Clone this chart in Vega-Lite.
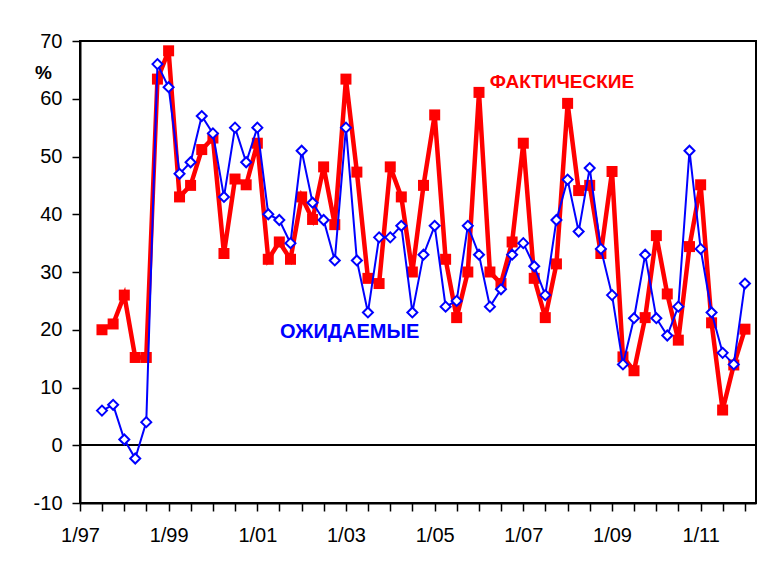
{
  "$schema": "https://vega.github.io/schema/vega-lite/v6.json",
  "width": 676,
  "height": 462,
  "autosize": {"type": "none"},
  "padding": {"left": 80, "top": 41, "right": 25, "bottom": 64},
  "background": "white",
  "config": {
    "font": "Liberation Sans",
    "view": {"stroke": "black", "strokeWidth": 2},
    "axis": {
      "domainColor": "black", "domainWidth": 2, "tickColor": "black", "tickWidth": 1.5,
      "labelColor": "black", "labelFont": "Liberation Sans", "labelFontSize": 20, "grid": false
    },
    "axisY": {
      "tickSize": 8, "labelPadding": 10, "titleAngle": 0, "titleX": -37, "titleY": 37,
      "titleAlign": "center", "titleBaseline": "alphabetic", "titleFontSize": 19,
      "titleFontWeight": "bold", "titleColor": "black", "titleFont": "Liberation Sans"
    },
    "axisX": {"tickSize": 8, "labelPadding": 14, "labelBaseline": "top"}
  },
  "data": {
    "values": [
      {"d": "1997-07-01", "f": 20.0, "e": 6},
      {"d": "1997-10-01", "f": 21.0, "e": 7},
      {"d": "1998-01-01", "f": 26.0, "e": 1},
      {"d": "1998-04-01", "f": 15.2, "e": -2.3},
      {"d": "1998-07-01", "f": 15.2, "e": 4},
      {"d": "1998-10-01", "f": 63.4, "e": 66},
      {"d": "1999-01-01", "f": 68.3, "e": 62},
      {"d": "1999-04-01", "f": 43.0, "e": 47},
      {"d": "1999-07-01", "f": 45.0, "e": 49},
      {"d": "1999-10-01", "f": 51.2, "e": 57},
      {"d": "2000-01-01", "f": 53.2, "e": 54},
      {"d": "2000-04-01", "f": 33.2, "e": 43},
      {"d": "2000-07-01", "f": 46.1, "e": 55},
      {"d": "2000-10-01", "f": 45.1, "e": 49},
      {"d": "2001-01-01", "f": 52.3, "e": 55},
      {"d": "2001-04-01", "f": 32.2, "e": 40},
      {"d": "2001-07-01", "f": 35.2, "e": 39},
      {"d": "2001-10-01", "f": 32.2, "e": 35},
      {"d": "2002-01-01", "f": 43.0, "e": 51},
      {"d": "2002-04-01", "f": 39.1, "e": 42},
      {"d": "2002-07-01", "f": 48.2, "e": 39},
      {"d": "2002-10-01", "f": 38.2, "e": 32},
      {"d": "2003-01-01", "f": 63.4, "e": 55},
      {"d": "2003-04-01", "f": 47.3, "e": 32},
      {"d": "2003-07-01", "f": 28.9, "e": 23},
      {"d": "2003-10-01", "f": 28.0, "e": 36},
      {"d": "2004-01-01", "f": 48.2, "e": 36},
      {"d": "2004-04-01", "f": 43.0, "e": 38},
      {"d": "2004-07-01", "f": 30.0, "e": 23},
      {"d": "2004-10-01", "f": 45.0, "e": 33},
      {"d": "2005-01-01", "f": 57.2, "e": 38},
      {"d": "2005-04-01", "f": 32.2, "e": 24},
      {"d": "2005-07-01", "f": 22.1, "e": 25},
      {"d": "2005-10-01", "f": 30.0, "e": 38},
      {"d": "2006-01-01", "f": 61.1, "e": 33},
      {"d": "2006-04-01", "f": 30.0, "e": 24},
      {"d": "2006-07-01", "f": 28.0, "e": 27},
      {"d": "2006-10-01", "f": 35.2, "e": 33},
      {"d": "2007-01-01", "f": 52.3, "e": 35},
      {"d": "2007-04-01", "f": 28.9, "e": 31},
      {"d": "2007-07-01", "f": 22.1, "e": 26},
      {"d": "2007-10-01", "f": 31.4, "e": 39},
      {"d": "2008-01-01", "f": 59.2, "e": 46},
      {"d": "2008-04-01", "f": 44.1, "e": 37},
      {"d": "2008-07-01", "f": 45.0, "e": 48},
      {"d": "2008-10-01", "f": 33.2, "e": 34},
      {"d": "2009-01-01", "f": 47.4, "e": 26},
      {"d": "2009-04-01", "f": 15.3, "e": 14},
      {"d": "2009-07-01", "f": 12.9, "e": 22},
      {"d": "2009-10-01", "f": 22.1, "e": 33},
      {"d": "2010-01-01", "f": 36.3, "e": 22},
      {"d": "2010-04-01", "f": 26.2, "e": 19},
      {"d": "2010-07-01", "f": 18.2, "e": 24},
      {"d": "2010-10-01", "f": 34.4, "e": 51},
      {"d": "2011-01-01", "f": 45.1, "e": 34},
      {"d": "2011-04-01", "f": 21.2, "e": 23},
      {"d": "2011-07-01", "f": 6.1, "e": 16},
      {"d": "2011-10-01", "f": 13.9, "e": 14},
      {"d": "2012-01-01", "f": 20.1, "e": 28}
    ]
  },
  "encoding": {
    "x": {
      "field": "d", "type": "temporal", "title": null,
      "scale": {"domain": [{"year": 1997, "month": 1, "date": 1}, {"year": 2012, "month": 4, "date": 1}]},
      "axis": {
        "tickCount": {"interval": "month", "step": 6},
        "labelExpr": "month(datum.value) == 0 && year(datum.value) % 2 == 1 ? '1/' + timeFormat(datum.value, '%y') : ''",
        "labelOverlap": false, "labelFlush": false
      }
    }
  },
  "layer": [
    {
      "mark": {"type": "rule", "color": "black", "strokeWidth": 1.5},
      "encoding": {"y": {"datum": 0, "type": "quantitative", "scale": {"domain": [-10, 70]}, "title": "%"}, "x": null}
    },
    {
      "mark": {"type": "line", "color": "#FF0000", "strokeWidth": 4.5},
      "encoding": {"y": {"field": "f", "type": "quantitative", "scale": {"domain": [-10, 70]}, "title": "%", "axis": {"values": [-10, 0, 10, 20, 30, 40, 50, 60, 70], "labelExpr": "'' + datum.value"}}}
    },
    {
      "mark": {"type": "point", "shape": "square", "filled": true, "size": 121, "color": "#FF0000", "opacity": 1},
      "encoding": {"y": {"field": "f", "type": "quantitative", "title": "%"}}
    },
    {
      "mark": {"type": "line", "color": "#0000FF", "strokeWidth": 2},
      "encoding": {"y": {"field": "e", "type": "quantitative", "title": "%"}}
    },
    {
      "mark": {"type": "point", "shape": "diamond", "filled": false, "fill": "white", "fillOpacity": 1, "stroke": "#0000FF", "strokeWidth": 2, "size": 100, "opacity": 1},
      "encoding": {"y": {"field": "e", "type": "quantitative", "title": "%"}}
    },
    {
      "data": {"values": [{"d": "2007-11-15", "v": 62.9, "t": "ФАКТИЧЕСКИЕ"}]},
      "mark": {"type": "text", "color": "#FF0000", "fontWeight": "bold", "fontSize": 19, "font": "Liberation Sans", "align": "center", "baseline": "middle"},
      "encoding": {"y": {"field": "v", "type": "quantitative", "title": "%"}, "text": {"field": "t"}}
    },
    {
      "data": {"values": [{"d": "2003-02-01", "v": 19.6, "t": "ОЖИДАЕМЫЕ"}]},
      "mark": {"type": "text", "color": "#0000FF", "fontWeight": "bold", "fontSize": 20, "font": "Liberation Sans", "align": "center", "baseline": "middle"},
      "encoding": {"y": {"field": "v", "type": "quantitative", "title": "%"}, "text": {"field": "t"}}
    }
  ]
}
